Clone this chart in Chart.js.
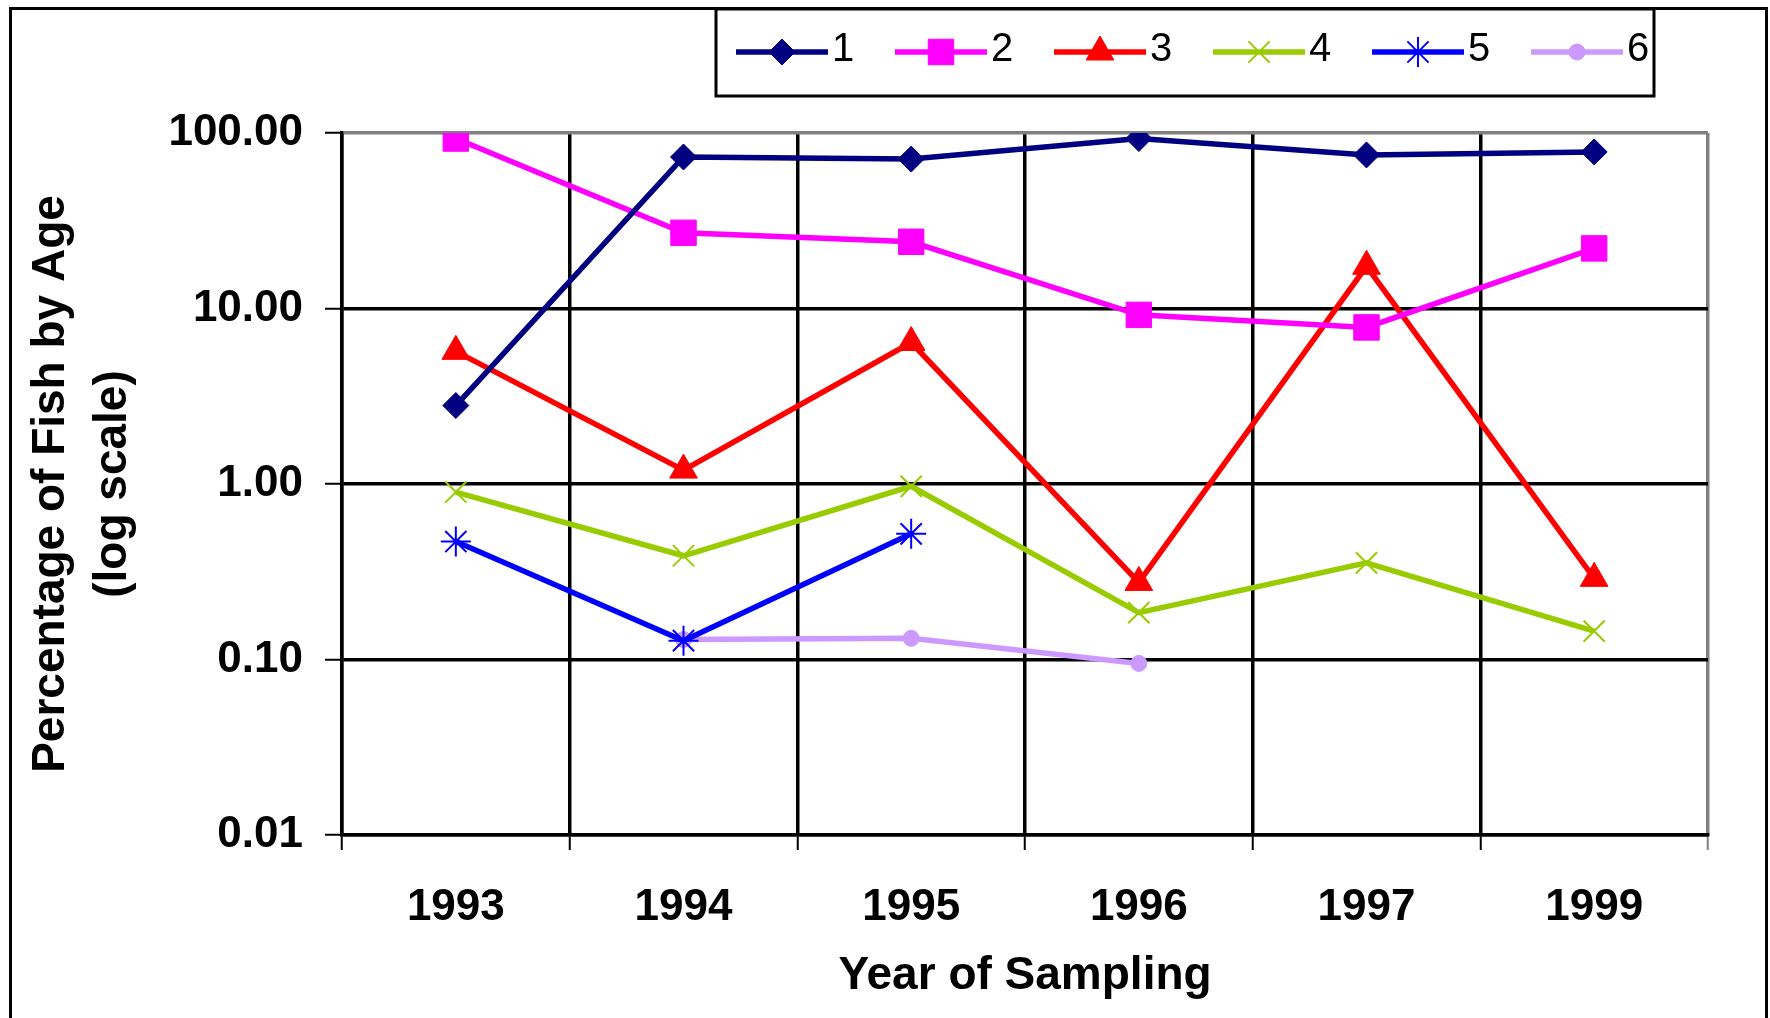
<!DOCTYPE html>
<html>
<head>
<meta charset="utf-8">
<script src="https://cdn.jsdelivr.net/npm/chart.js@4.4.1/dist/chart.umd.min.js"></script>
<style>
  html, body { margin: 0; padding: 0; background: #fff; }
  canvas { display: block; }
</style>
</head>
<body>
<canvas id="fishChart" width="1770" height="1018"></canvas>
<script>
// years sampled (no 1998)
var years = ['1993', '1994', '1995', '1996', '1997', '1999'];

// percentage of fish by age class
var age1 = [2.8, 73, 71, 93, 75, 78];
var age2 = [93, 27, 24, 9.2, 7.8, 22];
var age3 = [5.7, 1.2, 6.4, 0.275, 17.4, 0.29];
var age4 = [0.9, 0.39, 0.97, 0.185, 0.355, 0.145];
var age5 = [0.47, 0.128, 0.52, null, null, null];
var age6 = [null, 0.13, 0.132, 0.095, null, null];

var yTicks = [0.01, 0.1, 1, 10, 100];

var FONT = "'Liberation Sans', Arial, sans-serif";
Chart.defaults.font.family = FONT;
Chart.defaults.color = '#000';

function series(label, data, color, style, radius, lw) {
    return {
        label: label,
        data: data,
        borderColor: color,
        backgroundColor: color,
        borderWidth: 5.5,
        pointStyle: style,
        pointRadius: radius,
        pointBorderWidth: lw,
        pointBackgroundColor: color,
        pointBorderColor: color,
        spanGaps: false,
        tension: 0
    };
}

// outer frame (left, top, right only)
var framePlugin = {
    id: 'frame',
    afterDraw: function (chart) {
        var c = chart.ctx;
        c.save();
        c.strokeStyle = '#000';
        c.lineWidth = 3;
        c.beginPath();
        c.moveTo(10.5, 1018);
        c.lineTo(10.5, 8.5);
        c.lineTo(1766.5, 8.5);
        c.lineTo(1766.5, 1018);
        c.stroke();
        c.restore();
    }
};

// legend box along the top: line + marker + label
var legendPlugin = {
    id: 'lineLegend',
    afterDraw: function (chart) {
        var c = chart.ctx;
        c.save();
        c.fillStyle = '#fff';
        c.fillRect(716, 9, 938, 87);
        c.strokeStyle = '#000';
        c.lineWidth = 3;
        c.strokeRect(716, 9, 938, 87);

        chart.data.datasets.forEach(function (ds, i) {
            var x0 = 736 + i * 159;
            var y = 52;
            c.strokeStyle = ds.borderColor;
            c.lineWidth = 5.5;
            c.beginPath();
            c.moveTo(x0, y);
            c.lineTo(x0 + 92, y);
            c.stroke();

            c.fillStyle = ds.pointBackgroundColor;
            c.strokeStyle = ds.pointBorderColor;
            c.lineWidth = ds.pointBorderWidth;
            Chart.helpers.drawPoint(c, {
                pointStyle: ds.pointStyle,
                radius: ds.pointRadius,
                rotation: 0,
                borderWidth: ds.pointBorderWidth
            }, x0 + 46, y);

            c.fillStyle = '#000';
            c.font = '40px ' + FONT;
            c.textAlign = 'left';
            c.textBaseline = 'middle';
            c.fillText(ds.label, x0 + 96, y - 2);
        });
        c.restore();
    }
};

var ctx = document.getElementById('fishChart');
var myChart = new Chart(ctx, {
    type: 'line',
    data: {
        labels: years,
        datasets: [
            series('1', age1, '#000080', 'rectRot', 13, 1),
            series('2', age2, '#FF00FF', 'rect', 18, 1),
            series('3', age3, '#FF0000', 'triangle', 16, 1),
            series('4', age4, '#99CC00', 'crossRot', 15, 2),
            series('5', age5, '#0000FF', 'star', 15, 2),
            series('6', age6, '#CC99FF', 'circle', 8, 1)
        ]
    },
    options: {
        responsive: false,
        devicePixelRatio: 1,
        animation: false,
        layout: {
            padding: { top: 133, right: 62, bottom: 0, left: 0 }
        },
        plugins: {
            legend: { display: false },
            tooltip: { enabled: false },
            title: { display: false }
        },
        scales: {
            x: {
                type: 'category',
                offset: true,
                grid: {
                    offset: true,
                    color: function (c) { return c.index === undefined ? '#808080' : '#000'; },
                    lineWidth: 3.5,
                    tickLength: 15,
                    tickWidth: 2
                },
                border: { color: '#000', width: 3.5 },
                ticks: {
                    font: { size: 44, weight: 'bold' },
                    padding: 31,
                    maxRotation: 0,
                    color: '#000'
                },
                title: {
                    display: true,
                    text: 'Year of Sampling',
                    font: { size: 46, weight: 'bold' },
                    padding: { top: 0, bottom: 14 },
                    color: '#000'
                },
                afterFit: function (s) { s.height = 183; }
            },
            y: {
                type: 'logarithmic',
                min: 0.01,
                max: 100,
                afterBuildTicks: function (s) {
                    s.ticks = yTicks.map(function (v) { return { value: v }; });
                },
                grid: {
                    color: function (c) { return c.tick && c.tick.value === 100 ? '#808080' : '#000'; },
                    lineWidth: 3.5,
                    tickLength: 17,
                    tickColor: '#000',
                    tickWidth: 2
                },
                border: { color: '#000', width: 3.5 },
                ticks: {
                    font: { size: 44, weight: 'bold' },
                    padding: 22,
                    color: '#000',
                    callback: function (v) { return Number(v).toFixed(2); }
                },
                title: {
                    display: true,
                    text: ['Percentage of Fish by Age', '(log scale)'],
                    font: { size: 46, weight: 'bold', lineHeight: 62 / 46 },
                    padding: { top: 20, bottom: 0 },
                    color: '#000'
                },
                afterFit: function (s) { s.width = 342; }
            }
        }
    },
    plugins: [framePlugin, legendPlugin]
});
</script>
</body>
</html>
